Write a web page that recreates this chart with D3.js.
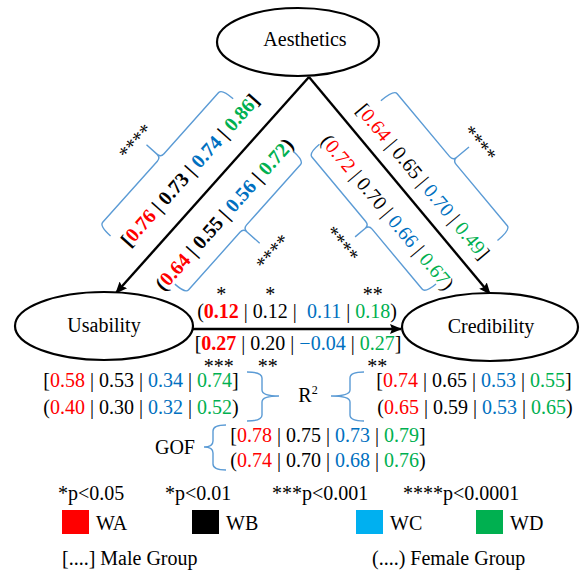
<!DOCTYPE html>
<html><head><meta charset="utf-8">
<script src="https://cdn.jsdelivr.net/npm/d3@7"></script>
<style>
body{margin:0;background:#fff}
svg text{font-family:"Liberation Serif","Times New Roman",serif; white-space:pre}
</style>
</head><body><svg id="c" width="583" height="574"></svg>
<script>
// ---------- data ----------
const groupNames   = ["WA","WB","WC","WD"];
const legendColors = ["#FF0000","#000000","#00B0F0","#00B050"];
const textColors   = ["#FF0000","#000000","#0070C0","#00B050"];
const constructs   = ["Aesthetics","Usability","Credibility"];

const aesUsaMale     = [0.76,0.73,0.74,0.86];
const aesUsaFemale   = [0.64,0.55,0.56,0.72];
const aesUsaSig      = ["****","****"];
const aesCredMale    = [0.64,0.65,0.70,0.49];
const aesCredFemale  = [0.72,0.70,0.66,0.67];
const aesCredSig     = ["****","****"];
const usaCredMale    = [0.27,0.20,-0.04,0.27];
const usaCredFemale  = [0.12,0.12,0.11,0.18];
const usaCredMaleSig   = ["***","**","","**"];
const usaCredFemaleSig = ["*","*","","**"];
const r2UsaMale    = [0.58,0.53,0.34,0.74];
const r2UsaFemale  = [0.40,0.30,0.32,0.52];
const r2CredMale   = [0.74,0.65,0.53,0.55];
const r2CredFemale = [0.65,0.59,0.53,0.65];
const gofMale      = [0.78,0.75,0.73,0.79];
const gofFemale    = [0.74,0.70,0.68,0.76];
const sigLabels    = ["*p<0.05","*p<0.01","***p<0.001","****p<0.0001"];
const groupLabels  = ["[....] Male Group","(....) Female Group"];

// ---------- layout ----------
const svg = d3.select("#c");
const fmt = d3.format(".2f");
const BR = "#5B9BD5";
const FS = 20;

const nodes = {
  Aesthetics:  {cx:298, cy:42,  rx:81, ry:34, tx:305, ty:46},
  Usability:   {cx:104, cy:326, rx:89, ry:34, tx:104, ty:332},
  Credibility: {cx:490, cy:327, rx:88, ry:34, tx:491, ty:333}
};

const defs = svg.append("defs");
defs.append("marker").attr("id","ah").attr("markerUnits","userSpaceOnUse")
  .attr("viewBox","0 0 12 10").attr("markerWidth",12).attr("markerHeight",10)
  .attr("refX",11).attr("refY",5).attr("orient","auto")
  .append("path").attr("d","M0,0 L12,5 L0,10 L2,5 z").attr("fill","#000");

function writeRow(parent, vals, open, close, opt){
  const t = parent.append("text").attr("x",opt.x).attr("y",opt.y)
    .attr("text-anchor",opt.anchor||"middle").attr("font-size",opt.fs||FS);
  if(opt.dy) t.attr("dy",opt.dy);
  if(opt.allBold) t.attr("font-weight","bold");
  t.append("tspan").text(open);
  const spans=[];
  vals.forEach((v,i)=>{
    if(i>0) t.append("tspan").attr("fill","#000").text(opt.seps?opt.seps[i-1]:" | ");
    const s=t.append("tspan").attr("fill",textColors[i]).text(fmt(v));
    if(opt.bold && opt.bold(i)) s.attr("font-weight","bold");
    spans.push(s);
  });
  t.append("tspan").text(close);
  return {t,spans};
}

// arrows
const apex=[309,77], tipU=[116,293], tipC=[490,294];
svg.append("line").attr("x1",apex[0]).attr("y1",apex[1]).attr("x2",tipU[0]).attr("y2",tipU[1])
  .attr("stroke","#000").attr("stroke-width",2.4).attr("marker-end","url(#ah)");
svg.append("line").attr("x1",apex[0]).attr("y1",apex[1]).attr("x2",tipC[0]).attr("y2",tipC[1])
  .attr("stroke","#000").attr("stroke-width",2.4).attr("marker-end","url(#ah)");
svg.append("line").attr("x1",193).attr("y1",329).attr("x2",401).attr("y2",329)
  .attr("stroke","#000").attr("stroke-width",2.4).attr("marker-end","url(#ah)");

// ellipses
constructs.forEach(k=>{
  const n=nodes[k];
  svg.append("ellipse").attr("cx",n.cx).attr("cy",n.cy).attr("rx",n.rx).attr("ry",n.ry)
    .attr("fill","#fff").attr("stroke","#000").attr("stroke-width",2.2);
  svg.append("text").attr("x",n.tx).attr("y",n.ty).attr("text-anchor","middle")
    .attr("font-size",FS).text(k);
});

// rotated frames along the diagonal paths
function frame(from,to){
  const dx=to[0]-from[0], dy=to[1]-from[1];
  const ang=Math.atan2(dy,dx)*180/Math.PI;
  const m=[(from[0]+to[0])/2,(from[1]+to[1])/2];
  return svg.append("g").attr("transform",`translate(${m[0]},${m[1]}) rotate(${ang})`);
}
function braceAlong(g,u0,u1,um,vc,vm,vt,r=5){
  const Y=v=>-v;
  const s=Math.sign(vt-vm);
  const p=`M${u0},${Y(vc)} Q${u0},${Y(vm)} ${u0+r},${Y(vm)} L${um-r},${Y(vm)} `+
    `Q${um},${Y(vm)} ${um},${Y(vm+s*r)} L${um},${Y(vt)} M${um},${Y(vm+s*r)} `+
    `Q${um},${Y(vm)} ${um+r},${Y(vm)} L${u1-r},${Y(vm)} Q${u1},${Y(vm)} ${u1},${Y(vc)}`;
  g.append("path").attr("d",p).attr("fill","none").attr("stroke",BR).attr("stroke-width",1.4);
}
function starsAlong(g,u,v,txt){
  g.append("text").attr("x",u).attr("y",-v).attr("dy","0.42em").attr("text-anchor","middle")
    .attr("font-size",FS).text(txt);
}

// Aesthetics -> Usability (reading upward)
const gL=frame(tipU,apex);
writeRow(gL,aesUsaMale,"[","]",{x:-4,y:-27,dy:"0.35em",allBold:true});
writeRow(gL,aesUsaFemale,"(",")",{x:-14,y:28,dy:"0.35em",allBold:true});
braceAlong(gL,-106,78,-14,42,57,76);
starsAlong(gL,-19,88,aesUsaSig[0]);
braceAlong(gL,-99,79,-12,-38,-52,-74);
starsAlong(gL,-10,-88,aesUsaSig[1]);

// Aesthetics -> Credibility
const gR=frame(apex,tipC);
writeRow(gR,aesCredMale,"[","]",{x:12,y:-21,dy:"0.35em"});
writeRow(gR,aesCredFemale,"(",")",{x:13,y:26,dy:"0.35em"});
braceAlong(gR,-77,105,15,40,57,78);
starsAlong(gR,19,90,aesCredSig[0]);
braceAlong(gR,-83,99,11,-35,-49,-67);
starsAlong(gR,8,-80,aesCredSig[1]);

// Usability -> Credibility
const fRow=writeRow(svg,usaCredFemale,"(",")",{x:297,y:318,bold:i=>i===0,seps:[" | "," |  "," | "]});
const mRow=writeRow(svg,usaCredMale,"[","]",{x:298,y:350,bold:i=>i===0});
function starsOver(row,sigs,y){
  sigs.forEach((s,i)=>{
    if(!s) return;
    const b=row.spans[i].node().getBBox();
    svg.append("text").attr("x",b.x+b.width/2).attr("y",y).attr("text-anchor","middle")
      .attr("font-size",FS).text(s);
  });
}
starsOver(fRow,usaCredFemaleSig,301);
starsOver(mRow,usaCredMaleSig,373);

// R2
writeRow(svg,r2UsaMale,"[","]",{x:141,y:387});
writeRow(svg,r2UsaFemale,"(",")",{x:141,y:414});
writeRow(svg,r2CredMale,"[","]",{x:474,y:387});
writeRow(svg,r2CredFemale,"(",")",{x:475,y:414});
function braceV(xCap,xLine,xTip,y0,y1,ym,r=6){
  const p=`M${xCap},${y0} Q${xLine},${y0} ${xLine},${y0+r} L${xLine},${ym-r} Q${xLine},${ym} ${xTip},${ym} `+
    `Q${xLine},${ym} ${xLine},${ym+r} L${xLine},${y1-r} Q${xLine},${y1} ${xCap},${y1}`;
  svg.append("path").attr("d",p).attr("fill","none").attr("stroke",BR).attr("stroke-width",1.4);
}
braceV(247,262,279,372,421,396);
braceV(364,350,331,372,421,396);
const r2=svg.append("text").attr("x",308).attr("y",402).attr("text-anchor","middle").attr("font-size",FS);
r2.append("tspan").text("R");
r2.append("tspan").attr("font-size",12).attr("dy",-8).text("2");

// GOF
svg.append("text").attr("x",175).attr("y",454).attr("text-anchor","middle").attr("font-size",FS).text("GOF");
braceV(226,213,204,425,470,447);
writeRow(svg,gofMale,"[","]",{x:328,y:442});
writeRow(svg,gofFemale,"(",")",{x:328,y:467});

// legend
const sigX=[58,165,272,403];
sigLabels.forEach((s,i)=>svg.append("text").attr("x",sigX[i]).attr("y",500).attr("font-size",FS).text(s));
const sqX=[62,192,356,476];
groupNames.forEach((g,i)=>{
  svg.append("rect").attr("x",sqX[i]).attr("y",510).attr("width",27).attr("height",24).attr("fill",legendColors[i]);
  svg.append("text").attr("x",sqX[i]+34).attr("y",530).attr("font-size",FS).text(g);
});
const glX=[62,372];
groupLabels.forEach((g,i)=>svg.append("text").attr("x",glX[i]).attr("y",565).attr("font-size",FS).text(g));
</script></body></html>
